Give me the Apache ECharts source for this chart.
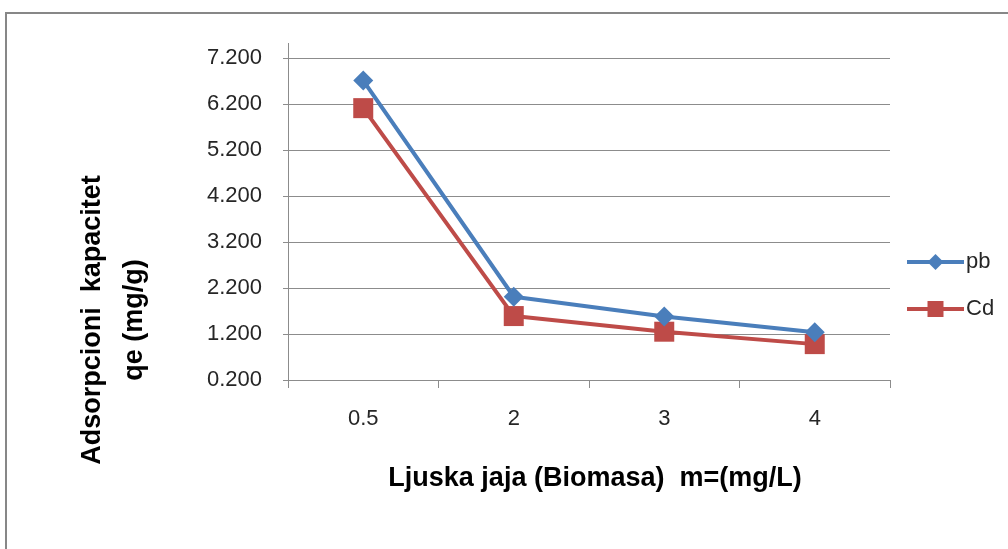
<!DOCTYPE html>
<html>
<head>
<meta charset="utf-8">
<script src="https://cdn.jsdelivr.net/npm/echarts@6/dist/echarts.min.js"></script>
<style>
html,body{margin:0;padding:0;background:#fff;}
#c{width:1008px;height:549px;}
</style>
</head>
<body>
<div id="c"></div>
<script>
const categories = ['0.5', '2', '3', '4'];
const pbValues = [6.71, 2.01, 1.58, 1.24];
const cdValues = [6.11, 1.59, 1.25, 0.98];
const yTicks = [0.2, 1.2, 2.2, 3.2, 4.2, 5.2, 6.2, 7.2];
const seriesNames = ['pb', 'Cd'];
const xTitle = 'Ljuska jaja (Biomasa)  m=(mg/L)';
const yTitle = 'Adsorpcioni  kapacitet\nqe (mg/g)';

const chart = echarts.init(document.getElementById('c'), null, {renderer: 'canvas'});
const gray = '#8c8c8c';
const font = '"Liberation Sans", Arial, sans-serif';
const txt = '#262626';
chart.setOption({
  backgroundColor: '#ffffff',
  animation: false,
  grid: {left: 288, right: 118, top: 58, bottom: 169, containLabel: false},
  graphic: [
    {type: 'rect', shape: {x: 6, y: 13, width: 1020, height: 560}, style: {fill: 'none', stroke: '#878787', lineWidth: 2}, silent: true},
    {type: 'line', shape: {x1: 288.5, y1: 43, x2: 288.5, y2: 58}, style: {stroke: gray, lineWidth: 1}, silent: true},
    {type: 'text', x: 114, y: 320, rotation: Math.PI / 2, style: {text: yTitle, font: 'bold 27px ' + font, fill: '#000', align: 'center', verticalAlign: 'middle', lineHeight: 42}},
    {type: 'text', x: 595, y: 479, style: {text: xTitle, font: 'bold 27px ' + font, fill: '#000', align: 'center', verticalAlign: 'middle'}}
  ],
  legend: {
    orient: 'vertical', left: 900, top: 246, itemWidth: 57, itemHeight: 20, itemGap: 25,
    lineStyle: {width: 4},
    textStyle: {fontSize: 22, color: txt, fontFamily: font, padding: [0, 0, 0, -3]},
    data: seriesNames
  },
  xAxis: {
    type: 'category', data: categories, boundaryGap: true,
    axisLine: {lineStyle: {color: gray, width: 1}},
    axisTick: {show: true, length: 8, lineStyle: {color: gray}},
    axisLabel: {fontSize: 22, color: txt, fontFamily: font, margin: 28},
    splitLine: {show: false}
  },
  yAxis: {
    type: 'value', min: 0.2, max: 7.2, interval: 1,
    axisLine: {show: true, lineStyle: {color: gray, width: 1}},
    axisTick: {show: true, length: 5, inside: false, lineStyle: {color: gray}, customValues: yTicks},
    axisLabel: {fontSize: 22, color: txt, fontFamily: font, margin: 26, customValues: yTicks, formatter: v => v.toFixed(3)},
    splitLine: {show: true, lineStyle: {color: gray, width: 1}}
  },
  series: [
    {name: seriesNames[0], type: 'line', data: pbValues, symbol: 'diamond', symbolSize: 20,
     lineStyle: {color: '#4a7ebb', width: 4}, itemStyle: {color: '#4a7ebb'}, z: 3},
    {name: seriesNames[1], type: 'line', data: cdValues, symbol: 'rect', symbolSize: 20,
     lineStyle: {color: '#be4b48', width: 4}, itemStyle: {color: '#be4b48'}, z: 2}
  ]
});
</script>
</body>
</html>
